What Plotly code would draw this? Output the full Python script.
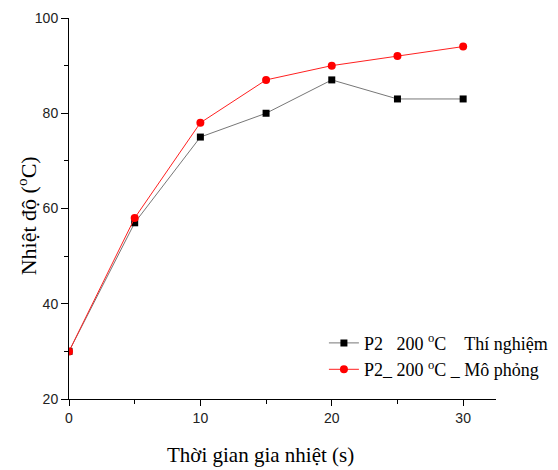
import plotly.graph_objects as go

time_s = [0, 5, 10, 15, 20, 25, 30]
exp_temp = [30, 57, 75, 80, 87, 83, 83]
sim_temp = [30, 58, 78, 87, 90, 92, 94]

nb = "\u00a0"
name_exp = f"P2{nb*3}200 <sup>o</sup>C{nb*4}Thí nghiệm"
name_sim = f"P2_ 200 <sup>o</sup>C _ Mô phỏng"

fig = go.Figure()
fig.add_trace(go.Scatter(
    x=time_s, y=exp_temp, mode="lines+markers", name=name_exp,
    line=dict(color="#777777", width=1),
    marker=dict(symbol="square", size=7, color="black"),
))
fig.add_trace(go.Scatter(
    x=time_s, y=sim_temp, mode="lines+markers", name=name_sim,
    line=dict(color="#ff2020", width=1),
    marker=dict(symbol="circle", size=8, color="#ff0000"),
))

fig.update_layout(
    width=558, height=470,
    margin=dict(l=69, r=62, t=18, b=71, autoexpand=False),
    paper_bgcolor="white", plot_bgcolor="white",
    showlegend=True,
    legend=dict(
        x=0.597, y=0.195, xanchor="left", yanchor="top",
        font=dict(family="Liberation Serif", size=18, color="black"),
        bgcolor="rgba(0,0,0,0)", tracegroupgap=0,
    ),
    xaxis=dict(
        range=[0, 32.5], tickvals=[0, 10, 20, 30],
        showgrid=False, zeroline=False,
        showline=True, linecolor="black", linewidth=1,
        ticks="outside", ticklen=6, tickcolor="black",
        minor=dict(tickvals=[5, 15, 25], ticks="outside", ticklen=4, tickcolor="black"),
        tickfont=dict(family="Liberation Sans", size=14, color="#222222"),
    ),
    yaxis=dict(
        range=[20, 100], tickvals=[20, 40, 60, 80, 100],
        showgrid=False, zeroline=False,
        showline=True, linecolor="black", linewidth=1,
        ticks="outside", ticklen=7, tickcolor="black",
        minor=dict(tickvals=[30, 50, 70, 90], ticks="outside", ticklen=4, tickcolor="black"),
        tickfont=dict(family="Liberation Sans", size=14, color="#222222"),
    ),
    annotations=[
        dict(text="Thời gian gia nhiệt (s)", xref="paper", yref="paper",
             x=0.448, y=-0.148, xanchor="center", yanchor="middle", showarrow=False,
             font=dict(family="Liberation Serif", size=21, color="black")),
        dict(text="Nhiệt độ (<sup>o</sup>C)", xref="paper", yref="paper",
             x=-0.098, y=0.48, xanchor="center", yanchor="middle", showarrow=False,
             textangle=-90,
             font=dict(family="Liberation Serif", size=22, color="black")),
    ],
)

fig.write_html("out.html")
